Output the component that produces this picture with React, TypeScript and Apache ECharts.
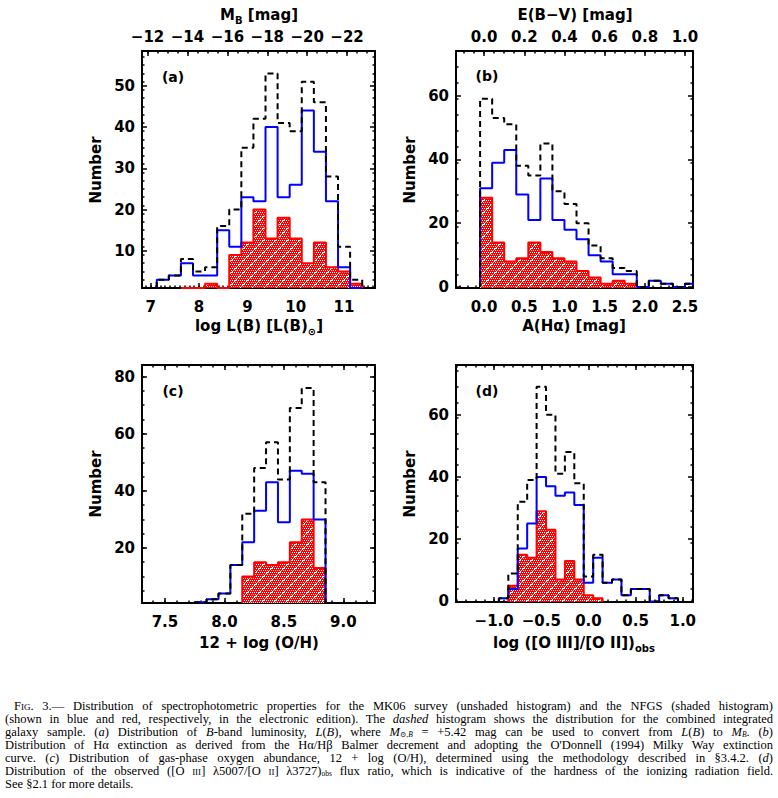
import React, { useEffect, useRef } from "react";
import * as echarts from "echarts";

// ---------------- DATA ----------------
// (a) log L(B), bins of 0.25 dex
const aAllStart = 7.125;
const aAll = [3, 4, 8, 5, 6, 16, 20, 35, 42, 53, 41, 39, 51, 46, 28, 11, 3];
const aMK06Start = 7.125;
const aMK06 = [3, 4, 7, 4, 4, 15, 11, 23, 22, 40, 23, 26, 44, 34, 22, 6, 1];
const aNFGSStart = 7.625;
const aNFGS = [1, 1, 2, 1, 9, 12, 20, 13, 18, 13, 7, 12, 6, 5, 2];
const aBinWidth = 0.25;

// (b) A(Halpha), bins of 0.15 mag
const bAllStart = -0.05;
const bAll = [59, 53, 51, 38, 35, 45, 30, 26, 20, 13, 9, 6, 5, 0, 2, 1, 0, 1];
const bMK06Start = -0.05;
const bMK06 = [31, 39, 43, 29, 21, 34, 21, 18, 15, 10, 8, 4, 4, 0, 2, 1, 0, 1];
const bNFGSStart = -0.05;
const bNFGS = [28, 14, 8, 9, 14, 11, 9, 8, 5, 3, 1, 2, 1];
const bBinWidth = 0.15;

// (c) 12 + log(O/H), bins of 0.1 dex
const cAllStart = 7.75;
const cAll = [1, 2, 4, 14, 32, 48, 57, 44, 69, 76, 43];
const cMK06Start = 7.75;
const cMK06 = [1, 2, 4, 14, 22, 33, 43, 29, 47, 46, 30];
const cNFGSStart = 8.15;
const cNFGS = [10, 15, 14, 15, 22, 30, 13];
const cBinWidth = 0.1;

// (d) log([O III]/[O II]), bins of 0.1 dex
const dAllStart = -0.95;
const dAll = [1, 9, 32, 39, 69, 60, 41, 48, 38, 8, 15, 6, 7, 2, 4, 4, 0, 2, 1];
const dMK06Start = -0.95;
const dMK06 = [1, 4, 17, 25, 40, 37, 34, 35, 31, 6, 14, 6, 7, 2, 4, 4, 0, 2, 1];
const dNFGSStart = -0.85;
const dNFGS = [5, 15, 14, 29, 23, 7, 13, 7, 2, 1];
const dBinWidth = 0.1;

// tick labels
const aXTicks = [7, 8, 9, 10, 11];
const aYTicks = [10, 20, 30, 40, 50];
const aTopTicks = [-12, -14, -16, -18, -20, -22];
const bXTicks = [0, 0.5, 1.0, 1.5, 2.0, 2.5];
const bYTicks = [0, 20, 40, 60];
const bTopTicks = [0, 0.2, 0.4, 0.6, 0.8, 1.0];
const cXTicks = [7.5, 8.0, 8.5, 9.0];
const cYTicks = [20, 40, 60, 80];
const dXTicks = [-1.0, -0.5, 0.0, 0.5, 1.0];
const dYTicks = [0, 20, 40, 60];

// ---------------- helpers ----------------
const FONT = '"DejaVu Sans", "Liberation Sans", sans-serif';
const TICK_FONT = 15;

function range(a: number, b: number, step: number, lo: number, hi: number) {
  const out: number[] = [];
  const n = Math.round((b - a) / step);
  for (let i = 0; i <= n; i++) {
    const v = +(a + i * step).toFixed(6);
    if (v > lo && v < hi) out.push(v);
  }
  return out;
}

function steps(start: number, width: number, vals: number[], base: number) {
  const pts: number[][] = [[start, base]];
  vals.forEach((v, i) => {
    const x0 = start + i * width;
    pts.push([x0, v]);
    pts.push([x0 + width, v]);
  });
  pts.push([start + vals.length * width, base]);
  return pts;
}

const minus = (s: string) => s.replace("-", "\u2212");

function makeHatch() {
  const c = document.createElement("canvas");
  c.width = 12;
  c.height = 12;
  const g = c.getContext("2d")!;
  g.fillStyle = "#ff0000";
  g.fillRect(0, 0, 12, 12);
  g.fillStyle = "#ffffff";
  for (let y = 0; y < 12; y += 2)
    for (let x = (y / 2) % 2; x < 12; x += 2) g.fillRect(x, y, 1, 1);
  for (let i = 0; i < 12; i++) g.fillRect(i, 11 - i, 1, 1);
  return c;
}

type Panel = {
  grid: { left: number; top: number; width: number; height: number };
  xMin: number;
  xMax: number;
  xMajor: number[];
  xMinorStep: number;
  xFmt: (v: number) => string;
  yMin: number;
  yMax: number;
  yMajor: number[];
  yMinorStep: number;
  top?: {
    min: number;
    max: number;
    inverse: boolean;
    major: number[];
    minorStep: number;
    fmt: (v: number) => string;
  };
  base: number;
  all: number[][];
  mk06: number[][];
  nfgs: number[][];
};

export default function App() {
  const ref = useRef<HTMLDivElement>(null);

  useEffect(() => {
    if (!ref.current) return;
    const chart = echarts.init(ref.current, undefined, { renderer: "svg" });
    const hatch = makeHatch();

    const panels: Panel[] = [
      {
        grid: { left: 142, top: 51, width: 233, height: 237 },
        xMin: 6.82, xMax: 11.64, xMajor: aXTicks, xMinorStep: 0.1,
        xFmt: (v) => String(v),
        yMin: 1, yMax: 58.45, yMajor: aYTicks, yMinorStep: 2,
        top: {
          min: -23.4, max: -11.72, inverse: true, major: aTopTicks, minorStep: 0.5,
          fmt: (v) => minus(String(v)),
        },
        base: 1,
        all: steps(aAllStart, aBinWidth, aAll, 1),
        mk06: steps(aMK06Start, aBinWidth, aMK06, 1),
        nfgs: steps(aNFGSStart, aBinWidth, aNFGS, 1),
      },
      {
        grid: { left: 456, top: 51, width: 237, height: 237 },
        xMin: -0.35, xMax: 2.6, xMajor: bXTicks, xMinorStep: 0.1,
        xFmt: (v) => v.toFixed(1),
        yMin: -0.3, yMax: 74, yMajor: bYTicks, yMinorStep: 5,
        top: {
          min: -0.14, max: 1.04, inverse: false, major: bTopTicks, minorStep: 0.05,
          fmt: (v) => v.toFixed(1),
        },
        base: 0,
        all: steps(bAllStart, bBinWidth, bAll, 0),
        mk06: steps(bMK06Start, bBinWidth, bMK06, 0),
        nfgs: steps(bNFGSStart, bBinWidth, bNFGS, 0),
      },
      {
        grid: { left: 142, top: 365, width: 233, height: 238 },
        xMin: 7.307, xMax: 9.266, xMajor: cXTicks, xMinorStep: 0.1,
        xFmt: (v) => v.toFixed(1),
        yMin: 0.7, yMax: 84.1, yMajor: cYTicks, yMinorStep: 5,
        base: 0.7,
        all: steps(cAllStart, cBinWidth, cAll, 0.7),
        mk06: steps(cMK06Start, cBinWidth, cMK06, 0.7),
        nfgs: steps(cNFGSStart, cBinWidth, cNFGS, 0.7),
      },
      {
        grid: { left: 456, top: 365, width: 237, height: 237 },
        xMin: -1.405, xMax: 1.109, xMajor: dXTicks, xMinorStep: 0.1,
        xFmt: (v) => minus(v.toFixed(1)),
        yMin: -0.2, yMax: 76, yMajor: dYTicks, yMinorStep: 5,
        base: 0,
        all: steps(dAllStart, dBinWidth, dAll, 0),
        mk06: steps(dMK06Start, dBinWidth, dMK06, 0),
        nfgs: steps(dNFGSStart, dBinWidth, dNFGS, 0),
      },
    ];

    const grids: any[] = [];
    const xAxes: any[] = [];
    const yAxes: any[] = [];
    const series: any[] = [];

    const axisLine = { show: true, onZero: false, lineStyle: { color: "#000", width: 2 } };
    const noLine = { show: false, onZero: false };
    const labelStyle = { color: "#000", fontFamily: FONT, fontSize: TICK_FONT, fontWeight: "bold" };

    panels.forEach((p, gi) => {
      grids.push({ ...p.grid, containLabel: false });
      const xMinor = range(Math.floor(p.xMin), Math.ceil(p.xMax), p.xMinorStep, p.xMin, p.xMax);
      const yMinor = range(Math.floor(p.yMin), Math.ceil(p.yMax), p.yMinorStep, p.yMin, p.yMax);
      const xMajor = p.xMajor.filter((v) => v >= p.xMin && v <= p.xMax);
      const yMajor = p.yMajor.filter((v) => v >= p.yMin && v <= p.yMax);

      const xBase = { type: "value", gridIndex: gi, min: p.xMin, max: p.xMax, splitLine: { show: false }, scale: true };
      const yBase = { type: "value", gridIndex: gi, min: p.yMin, max: p.yMax, splitLine: { show: false }, scale: true };

      const xMainIdx = xAxes.length;
      xAxes.push({
        ...xBase, position: "bottom", axisLine,
        axisTick: { show: true, inside: true, length: 5, customValues: xMajor, lineStyle: { color: "#000", width: 1.5 } },
        axisLabel: { show: true, customValues: xMajor, formatter: p.xFmt, margin: 11, ...labelStyle },
      });
      xAxes.push({
        ...xBase, position: "bottom", axisLine: noLine,
        axisTick: { show: true, inside: true, length: 2.5, customValues: xMinor, lineStyle: { color: "#000", width: 1.5 } },
        axisLabel: { show: false },
      });
      if (p.top) {
        const t = p.top;
        const tMajor = t.major.filter((v) => v >= t.min && v <= t.max);
        const tMinor = range(Math.floor(t.min), Math.ceil(t.max), t.minorStep, t.min, t.max);
        const tBase = { type: "value", gridIndex: gi, min: t.min, max: t.max, inverse: t.inverse, splitLine: { show: false }, scale: true };
        xAxes.push({
          ...tBase, position: "top", axisLine,
          axisTick: { show: true, inside: true, length: 5, customValues: tMajor, lineStyle: { color: "#000", width: 1.5 } },
          axisLabel: { show: true, customValues: tMajor, formatter: t.fmt, margin: 7, ...labelStyle },
        });
        xAxes.push({
          ...tBase, position: "top", axisLine: noLine,
          axisTick: { show: true, inside: true, length: 2.5, customValues: tMinor, lineStyle: { color: "#000", width: 1.5 } },
          axisLabel: { show: false },
        });
      } else {
        xAxes.push({
          ...xBase, position: "top", axisLine,
          axisTick: { show: true, inside: true, length: 5, customValues: xMajor, lineStyle: { color: "#000", width: 1.5 } },
          axisLabel: { show: false },
        });
        xAxes.push({
          ...xBase, position: "top", axisLine: noLine,
          axisTick: { show: true, inside: true, length: 2.5, customValues: xMinor, lineStyle: { color: "#000", width: 1.5 } },
          axisLabel: { show: false },
        });
      }

      const yMainIdx = yAxes.length;
      yAxes.push({
        ...yBase, position: "left", axisLine,
        axisTick: { show: true, inside: true, length: 5, customValues: yMajor, lineStyle: { color: "#000", width: 1.5 } },
        axisLabel: { show: true, customValues: yMajor, margin: 7, ...labelStyle },
      });
      yAxes.push({
        ...yBase, position: "left", axisLine: noLine,
        axisTick: { show: true, inside: true, length: 2.5, customValues: yMinor, lineStyle: { color: "#000", width: 1.5 } },
        axisLabel: { show: false },
      });
      yAxes.push({
        ...yBase, position: "right", axisLine,
        axisTick: { show: true, inside: true, length: 5, customValues: yMajor, lineStyle: { color: "#000", width: 1.5 } },
        axisLabel: { show: false },
      });
      yAxes.push({
        ...yBase, position: "right", axisLine: noLine,
        axisTick: { show: true, inside: true, length: 2.5, customValues: yMinor, lineStyle: { color: "#000", width: 1.5 } },
        axisLabel: { show: false },
      });

      series.push({
        type: "line", name: "NFGS", xAxisIndex: xMainIdx, yAxisIndex: yMainIdx,
        data: p.nfgs, showSymbol: false, symbol: "none", z: 2,
        lineStyle: { color: "#ff0000", width: 2 },
        areaStyle: { color: { image: hatch, repeat: "repeat" }, opacity: 1, origin: "start" },
        silent: true,
      });
      series.push({
        type: "line", name: "MK06", xAxisIndex: xMainIdx, yAxisIndex: yMainIdx,
        data: p.mk06, showSymbol: false, symbol: "none", z: 3,
        lineStyle: { color: "#0000ff", width: 2 }, silent: true,
      });
      series.push({
        type: "line", name: "All", xAxisIndex: xMainIdx, yAxisIndex: yMainIdx,
        data: p.all, showSymbol: false, symbol: "none", z: 4,
        lineStyle: { color: "#000000", width: 2, type: [6, 4] }, silent: true,
      });
    });

    const tFont = `bold ${TICK_FONT}px ${FONT}`;
    const rich = {
      n: { fontFamily: FONT, fontSize: TICK_FONT, fontWeight: "bold", fill: "#000", lineHeight: 20, verticalAlign: "middle" },
      s: { fontFamily: FONT, fontSize: 10, fontWeight: "bold", fill: "#000", lineHeight: 20, verticalAlign: "bottom", padding: [0, 0, 0, 0] },
    } as any;
    const txt = (x: number, y: number, text: string, extra: any = {}) => ({
      type: "text", x, y, silent: true,
      style: { text, font: tFont, fill: "#000", align: "center", verticalAlign: "middle", rich, ...extra },
    });
    const numberLabel = (x: number, y: number) => ({
      type: "text", x, y, rotation: Math.PI / 2, silent: true,
      style: { text: "Number", font: tFont, fill: "#000", align: "center", verticalAlign: "middle" },
    });
    const letter = (x: number, y: number, t: string) => ({
      type: "text", x, y, silent: true,
      style: { text: t, font: `bold 14px ${FONT}`, fill: "#000", align: "center", verticalAlign: "middle" },
    });

    const graphic = [
      txt(259, 15, "{n|M}{s|B}{n| [mag]}"),
      txt(575, 15, "{n|E(B\u2212V) [mag]}"),
      txt(259, 326, "{n|log L(B) [L(B)}{s|\u2299}{n|]}"),
      txt(574, 326, "{n|A(H\u03b1) [mag]}"),
      txt(259, 643, "{n|12 + log (O/H)}"),
      txt(574, 643, "{n|log ([O III]/[O II])}{s|obs}"),
      numberLabel(96, 170),
      numberLabel(410, 170),
      numberLabel(96, 484),
      numberLabel(410, 484),
      letter(173, 77, "(a)"),
      letter(487, 76, "(b)"),
      letter(173, 391, "(c)"),
      letter(487, 391, "(d)"),
    ];

    chart.setOption({
      animation: false,
      backgroundColor: "#ffffff",
      grid: grids,
      xAxis: xAxes,
      yAxis: yAxes,
      series,
      graphic,
    });

    return () => chart.dispose();
  }, []);

  const sc: React.CSSProperties = { fontVariant: "small-caps" };
  const sub: React.CSSProperties = { fontSize: "7.5px", position: "relative", top: "1px", lineHeight: "7px", verticalAlign: "baseline" };
  const line: React.CSSProperties = {
    textAlign: "justify", textAlignLast: "justify" as any, height: 13, lineHeight: "13px", whiteSpace: "nowrap", overflow: "visible",
  };

  return (
    <div style={{ position: "absolute", left: 0, top: 0, width: 778, height: 798, background: "#fff" }}>
      <div ref={ref} style={{ position: "absolute", left: 0, top: 0, width: 778, height: 690 }} />
      <div
        style={{
          position: "absolute", left: 5, top: 700, width: 768,
          fontFamily: '"Liberation Serif", "DejaVu Serif", serif', fontSize: 12.5, color: "#000",
        }}
      >
        <div style={{ ...line, paddingLeft: 9 }}>
          <span style={sc}>Fig.</span> 3.— Distribution of spectrophotometric properties for the MK06 survey (unshaded histogram) and the NFGS (shaded histogram)
        </div>
        <div style={line}>
          (shown in blue and red, respectively, in the electronic edition). The <i>dashed</i> histogram shows the distribution for the combined integrated
        </div>
        <div style={line}>
          galaxy sample. (<i>a</i>) Distribution of <i>B</i>-band luminosity, <i>L</i>(<i>B</i>), where <i>M</i>
          <span style={sub}>⊙,<i>B</i></span> = +5.42 mag can be used to convert from <i>L</i>(<i>B</i>) to <i>M</i>
          <span style={sub}><i>B</i></span>. (<i>b</i>)
        </div>
        <div style={line}>
          Distribution of Hα extinction as derived from the Hα/Hβ Balmer decrement and adopting the O'Donnell (1994) Milky Way extinction
        </div>
        <div style={line}>
          curve. (<i>c</i>) Distribution of gas-phase oxygen abundance, 12 + log (O/H), determined using the methodology described in §3.4.2. (<i>d</i>)
        </div>
        <div style={line}>
          Distribution of the observed ([O <span style={sc}>iii</span>] λ5007/[O <span style={sc}>ii</span>] λ3727)
          <span style={sub}>obs</span> flux ratio, which is indicative of the hardness of the ionizing radiation field.
        </div>
        <div style={{ height: 13, lineHeight: "13px" }}>See §2.1 for more details.</div>
      </div>
    </div>
  );
}
